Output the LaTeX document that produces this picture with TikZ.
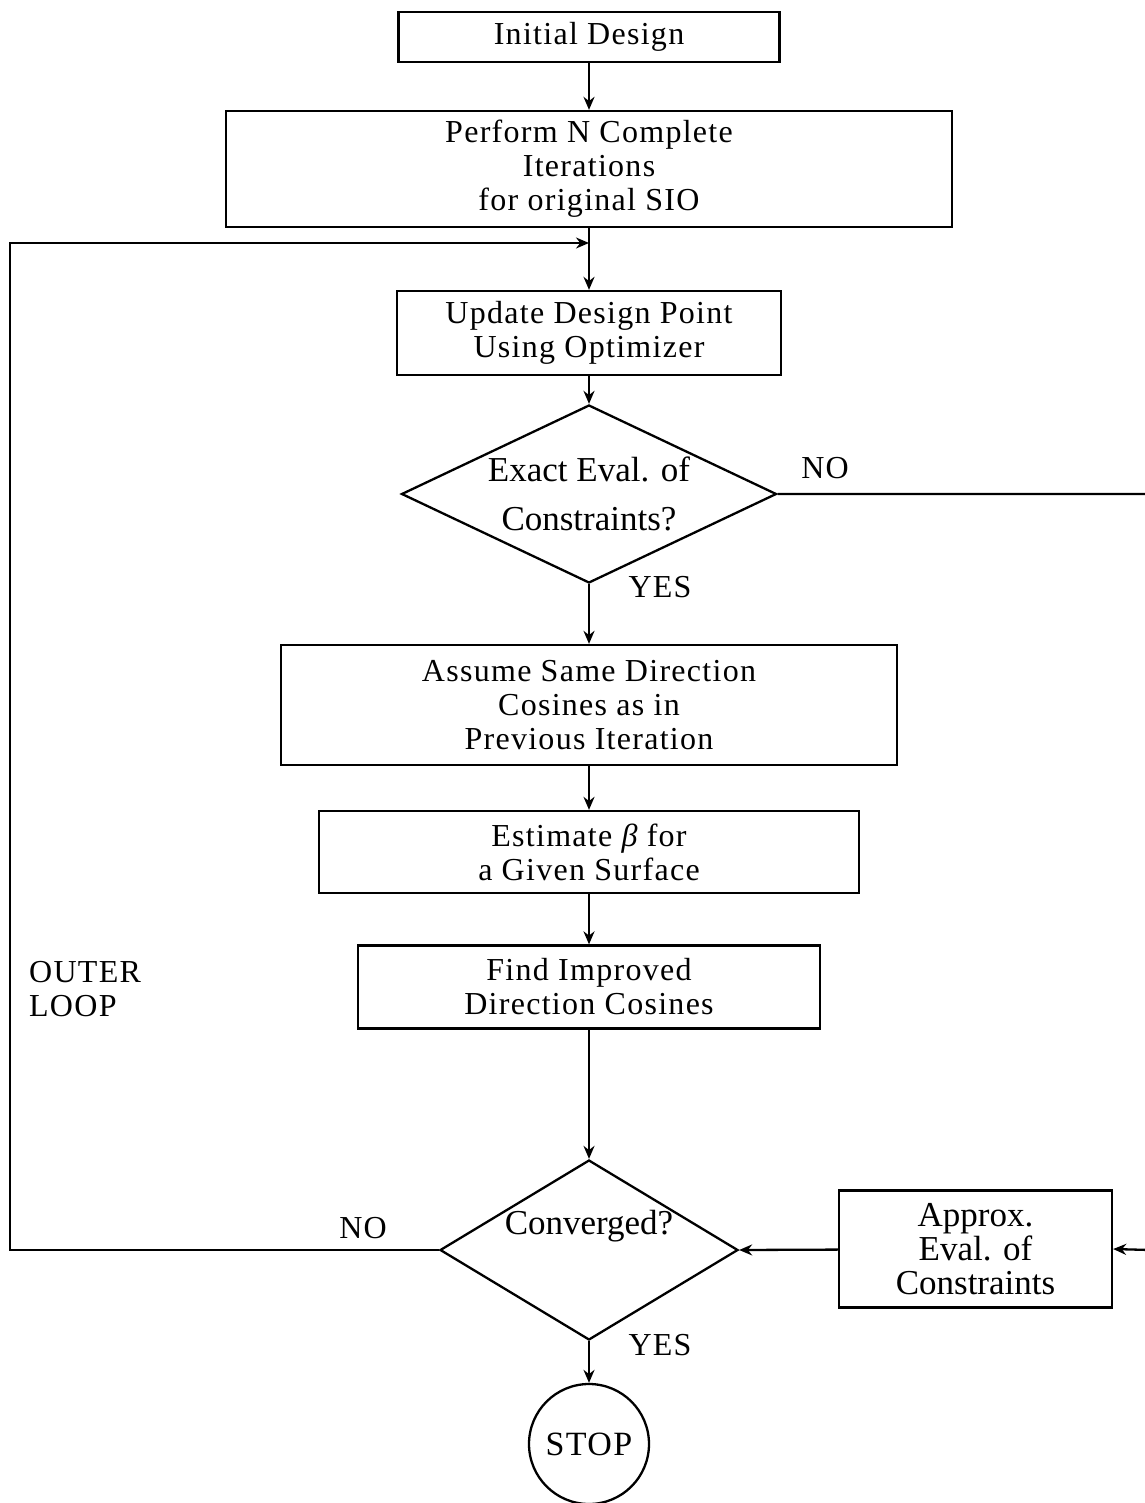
\documentclass[tikz,border=0pt]{standalone}
\usepackage{fontspec}
\setmainfont{Liberation Serif}[LetterSpace=4]
\newfontfamily\condfont{Liberation Serif}
\usetikzlibrary{shapes.geometric,arrows.meta}
\begin{document}
\begin{tikzpicture}[x=1pt,y=-1pt,
  line width=2.3pt,
  every node/.style={inner sep=0pt},
  txt/.style={font=\fontsize{32}{34}\selectfont, align=center},
  ctxt/.style={font=\condfont\fontsize{35}{34}\selectfont, align=center},
  box/.style={draw, txt},
  dia/.style={draw, diamond, ctxt},
  arr/.style={-{Stealth[length=13pt,width=11pt]}}
]
\useasboundingbox (0,0) rectangle (1144,1503);
% nodes
\node[box, minimum width=381pt, minimum height=50pt] (init) at (589,37) {Initial Design};
\node[box, minimum width=726pt, minimum height=116pt] (perf) at (589,169) {Perform N Complete\\Iterations\\for original SIO};
\coordinate (join) at (589,243);
\node[box, minimum width=384pt, minimum height=84pt] (upd) at (589,333) {Update Design Point\\Using Optimizer};
\node[dia, minimum width=375pt, minimum height=178pt, aspect=2.1, font=\condfont\fontsize{35}{49}\selectfont] (d1) at (589,494) {Exact Eval. of\\Constraints?};
\node[box, minimum width=616pt, minimum height=120pt] (assume) at (589,705) {Assume Same Direction\\Cosines as in\\Previous Iteration};
\node[box, minimum width=540pt, minimum height=82pt] (est) at (589,852) {Estimate {\itshape β} for\\a Given Surface};
\node[box, minimum width=462pt, minimum height=83pt] (find) at (589,987) {Find Improved\\Direction Cosines};
\node[dia, minimum width=298pt, minimum height=180pt, aspect=1.65] (d2) at (589,1250) {};
\node[ctxt] (conv) at (589,1226) {Converged?};
\node[box, ctxt, minimum width=273pt, minimum height=117pt] (ap) at (975.5,1249) {Approx.\\Eval. of\\Constraints};
\node[draw, circle, minimum size=120pt, txt, font=\fontsize{34}{34}\selectfont] (stop) at (589,1444) {STOP};
\coordinate (lc1) at (10,1250);
\coordinate (lc2) at (10,243);
\coordinate (rc1) at (1150,494);
\coordinate (rc2) at (1150,1250);
% labels
\node[txt] (no1) at (825,468) {NO};
\node[txt] (yes1) at (660,587) {YES};
\node[txt] (no2) at (363,1228) {NO};
\node[txt] (yes2) at (660,1345) {YES};
\node[txt, align=left, anchor=west] (outer) at (28,989) {OUTER\\LOOP};
% connectors
\draw[arr] (init) -- (perf);
\draw (perf) -- (join);
\draw[arr] (join) -- (upd);
\draw[arr] (upd) -- (d1);
\draw[arr] (d1) -- (assume);
\draw[arr] (assume) -- (est);
\draw[arr] (est) -- (find);
\draw[arr] (find) -- (d2);
\draw[arr] (d2) -- (stop);
\draw[arr] (d2.west) -- (lc1) -- (lc2) -- (join);
\draw[arr] (d1.east) -- (rc1) -- (rc2) -- (ap.east);
\draw[arr] (ap) -- (d2.east);
\end{tikzpicture}
\end{document}
